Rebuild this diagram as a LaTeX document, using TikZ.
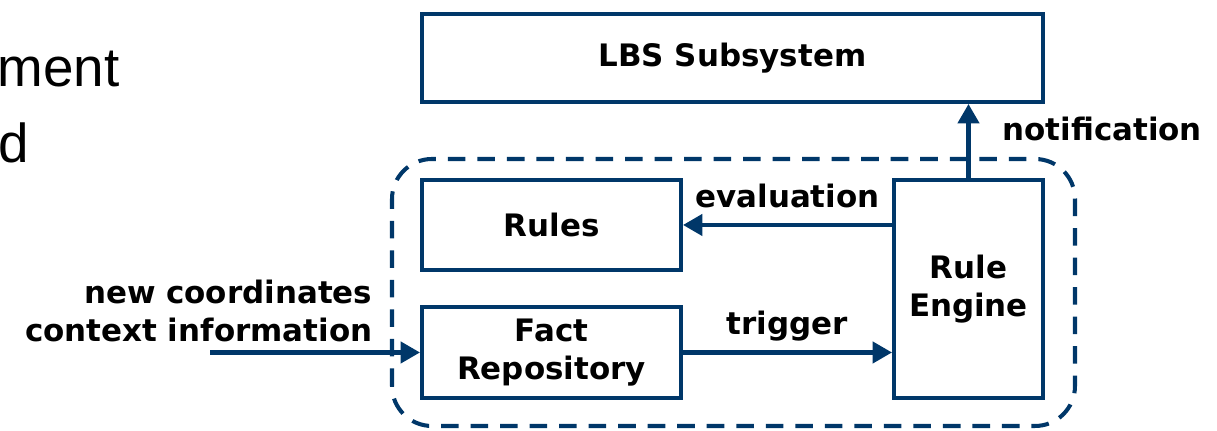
\documentclass[tikz,border=0pt]{standalone}
\usepackage{fontspec}
\setmainfont{DejaVu Sans}
\newfontfamily\slidefont{Liberation Sans}
\usetikzlibrary{calc, arrows.meta}
\definecolor{navy}{RGB}{0,55,105}
\tikzset{
  block/.style={draw=navy, line width=1.15pt, minimum width=#1, inner sep=0pt,
    align=center, font=\bfseries\fontsize{8.8}{10.8}\selectfont},
  link/.style={draw=navy, line width=1.15pt, -{Triangle[length=5.5pt,width=6pt]}},
  lbl/.style={font=\bfseries\fontsize{8.8}{10.8}\selectfont, inner sep=0pt, text depth=0pt}
}

\begin{document}
\begin{tikzpicture}
\useasboundingbox (0,0) rectangle (12.17,4.31);
% Leftover slide text
\node[anchor=base west, inner sep=0pt, font=\slidefont\fontsize{15.6}{17}\selectfont] (w1) at (-0.03,3.44) {ment};
\node[anchor=base west, inner sep=0pt, font=\slidefont\fontsize{15.6}{17}\selectfont] (w2) at (-0.02,2.68) {d};
% Container of the rule part
\draw[navy, line width=1.15pt, dash pattern=on 5pt off 3.4pt, rounded corners=0.4cm]
  (3.92,0.05) rectangle (10.75,2.72);
% Blocks
\node[block=6.21cm, minimum height=0.88cm] (lbs) at (7.325,3.73) {LBS Subsystem};
\node[block=2.59cm, minimum height=0.90cm] (rules) at (5.515,2.06) {Rules};
\node[block=2.59cm, minimum height=0.91cm] (fact) at (5.515,0.785) {Fact\\Repository};
\node[block=1.49cm, minimum height=2.18cm] (engine) at (9.685,1.42) {Rule\\Engine};
% Connectors
\draw[link] (engine.west |- rules.east) -- node[lbl, above=4.5pt] (eval) {evaluation} (rules.east);
\draw[link] (fact.east) -- node[lbl, above=4.5pt] (trig) {trigger} (engine.west |- fact.east);
\draw[link] (engine.north) -- node[lbl, anchor=base west, xshift=0.32cm] (note) {notification}
  (engine.north |- lbs.south);
% Incoming data
\coordinate (src) at (2.10,0.785);
\draw[link] (src) -- (fact.west);
\node[lbl, anchor=base east, align=right, font=\bfseries\fontsize{8.8}{11}\selectfont] (ctx) at (3.73,0.89)
  {new coordinates\\context information};
\end{tikzpicture}
\end{document}
